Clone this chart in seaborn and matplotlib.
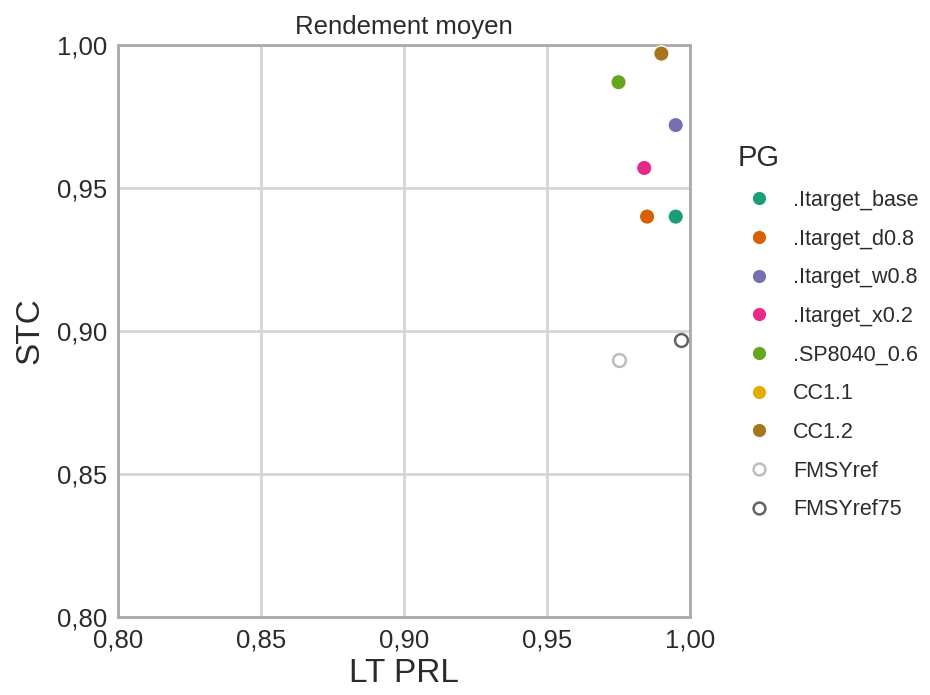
import matplotlib.pyplot as plt
from matplotlib.lines import Line2D
from matplotlib.ticker import FuncFormatter
import seaborn as sns
import pandas as pd

# values
pg = ['.Itarget_base', '.Itarget_d0.8', '.Itarget_w0.8', '.Itarget_x0.2',
      '.SP8040_0.6', 'CC1.1', 'CC1.2', 'FMSYref', 'FMSYref75']
lt_prl = [0.995, 0.985, 0.995, 0.984, 0.975, 0.990, 0.990, 0.975, 0.997]
stc = [0.940, 0.940, 0.972, 0.957, 0.987, 0.997, 0.997, 0.890, 0.897]
colors = ['#1b9e77', '#d95f02', '#7570b3', '#e7298a', '#66a61e',
          '#e6ab02', '#a6761d', '#bdbdbd', '#636363']
open_pts = ['FMSYref', 'FMSYref75']

df = pd.DataFrame({'PG': pg, 'LT PRL': lt_prl, 'STC': stc})
palette = dict(zip(pg, colors))

sns.set_style('whitegrid')
plt.rcParams['font.family'] = ['Liberation Sans', 'DejaVu Sans']

fig = plt.figure(figsize=(9.3, 6.95), dpi=100)
ax = fig.add_axes([118 / 930, 1 - 617 / 695, 572 / 930, 572 / 695])

filled = df[~df['PG'].isin(open_pts)]
sns.scatterplot(data=filled, x='LT PRL', y='STC', hue='PG', palette=palette,
                s=120, edgecolor='white', linewidth=0.8, ax=ax, legend=False,
                zorder=3)
for name in open_pts:
    row = df[df['PG'] == name]
    ax.scatter(row['LT PRL'], row['STC'], s=85, facecolors='white',
               edgecolors=palette[name], linewidths=1.8, zorder=3)

ax.set_xlim(0.80, 1.00)
ax.set_ylim(0.80, 1.00)
ticks = [0.80, 0.85, 0.90, 0.95, 1.00]
ax.set_xticks(ticks)
ax.set_yticks(ticks)
fmt = FuncFormatter(lambda v, p: f'{v:.2f}'.replace('.', ','))
ax.xaxis.set_major_formatter(fmt)
ax.yaxis.set_major_formatter(fmt)
ax.tick_params(axis='both', labelsize=18.5, colors='#2b2b2b', length=5,
               width=1, direction='out', color='#aaaaaa', pad=3)
ax.grid(True, color='#d6d6d6', linewidth=2)
for sp in ax.spines.values():
    sp.set_color('#aaaaaa')
    sp.set_linewidth(2)
ax.set_xlabel('LT PRL', fontsize=24, color='#2b2b2b', labelpad=4)
ax.set_ylabel('STC', fontsize=24, color='#2b2b2b', labelpad=8)
ax.set_title('Rendement moyen', fontsize=18.5, color='#2b2b2b', pad=8)

handles = []
for name in pg:
    if name in open_pts:
        h = Line2D([], [], linestyle='none', marker='o', markersize=8.5,
                   markerfacecolor='white', markeredgecolor=palette[name],
                   markeredgewidth=1.8, label=name)
    else:
        h = Line2D([], [], linestyle='none', marker='o', markersize=10.5,
                   markerfacecolor=palette[name], markeredgecolor='white',
                   label=name)
    handles.append(h)
lgd = fig.legend(handles=handles, title='PG', loc='upper left',
                 bbox_to_anchor=(718 / 930, 1 - 125 / 695), frameon=False,
                 fontsize=15.5, labelspacing=0.82, handletextpad=0.6,
                 alignment='left')
lgd.get_title().set_fontsize(21)
lgd.get_title().set_color('#2b2b2b')
for t in lgd.get_texts():
    t.set_color('#2b2b2b')

fig.savefig('out.png', dpi=100)
